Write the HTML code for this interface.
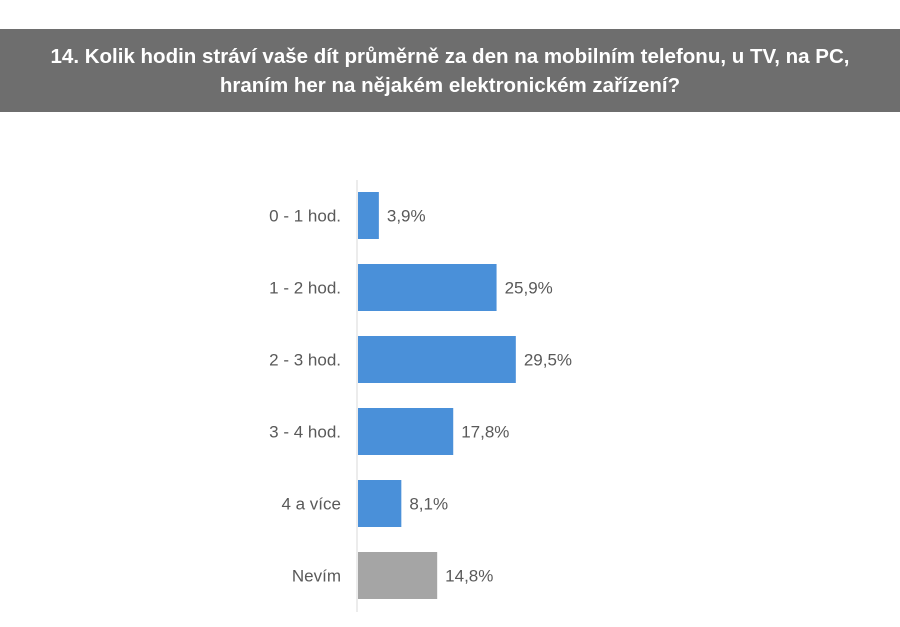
<!DOCTYPE html>
<html><head><meta charset="utf-8"><style>
body{margin:0;width:900px;height:627px;background:#fff;overflow:hidden;font-family:"Liberation Sans",sans-serif}
#title{position:absolute;left:0;top:29px;width:900px;height:83px;background:#6e6e6e;color:#fff;font-weight:bold;font-size:20.5px;text-align:center;line-height:29px;box-sizing:border-box;padding-top:13px;font-family:"Liberation Sans","DejaVu Sans",sans-serif}
svg{position:absolute;left:0;top:0}
</style></head><body>
<div id="title">14. Kolik hodin stráví vaše dít průměrně za den na mobilním telefonu, u TV, na PC,<br>hraním her na nějakém elektronickém zařízení?</div>
<svg id="chart" width="900" height="627"></svg>
<script>
const categories=["0 - 1 hod.","1 - 2 hod.","2 - 3 hod.","3 - 4 hod.","4 a více","Nevím"];
const values=[3.9,25.9,29.5,17.8,8.1,14.8];
const labels=["3,9%","25,9%","29,5%","17,8%","8,1%","14,8%"];
const NS="http://www.w3.org/2000/svg";
const svg=document.getElementById('chart');
const x0=358, scale=5.35, top0=192, pitch=72, bh=47;
function xs(v){return x0+v*scale;}
function yc(i){return top0+i*pitch;}
const axis=document.createElementNS(NS,'line');


axis.setAttribute('x1',357);axis.setAttribute('x2',357);axis.setAttribute('y1',180);axis.setAttribute('y2',612);
axis.setAttribute('stroke','#d9d9d9');axis.setAttribute('stroke-width','1');
svg.appendChild(axis);
categories.forEach((c,i)=>{
  const y=yc(i);
  const r=document.createElementNS(NS,'rect');
  
  
  r.setAttribute('x',x0);r.setAttribute('y',y);r.setAttribute('width',xs(values[i])-x0);r.setAttribute('height',bh);
  r.setAttribute('fill',i===5?'#a5a5a5':'#4a90d9');
  svg.appendChild(r);
  const t=document.createElementNS(NS,'text');
  
  
  t.setAttribute('x',341);t.setAttribute('y',y+bh/2+6);t.setAttribute('text-anchor','end');
  t.setAttribute('font-size','17');t.setAttribute('fill','#595959');t.textContent=c;
  svg.appendChild(t);
  const v=document.createElementNS(NS,'text');
  
  
  v.setAttribute('x',xs(values[i])+8);v.setAttribute('y',y+bh/2+6);
  v.setAttribute('font-size','17');v.setAttribute('fill','#595959');v.textContent=labels[i];
  svg.appendChild(v);
});
</script>
</body></html>
